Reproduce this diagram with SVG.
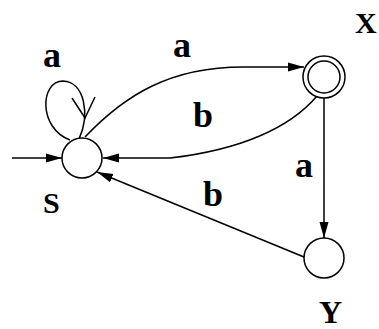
<svg xmlns="http://www.w3.org/2000/svg" width="379" height="329" viewBox="0 0 379 329">
<style>
.st{fill:#fff;stroke:#000;stroke-width:1.5}
.e{fill:none;stroke:#000;stroke-width:1.5}
.t{font-family:"Liberation Serif","DejaVu Serif",serif;font-weight:bold;fill:#000}
</style>
<defs>
<marker id="ah" markerUnits="userSpaceOnUse" markerWidth="18" markerHeight="10" refX="16" refY="5" orient="auto">
<path d="M0,0.5 L16,5 L0,9.5 z" fill="#000"/>
</marker>
</defs>
<rect width="379" height="329" fill="#fff"/>
<g id="edges">
<path class="e" d="M12,158 L62,158" marker-end="url(#ah)"/>
<path class="e" d="M70,140 C38,128 40,81 63,81 C85,82 90,115 79,139"/>
<path class="e" d="M72,98 L85,118 L95,97"/>
<path class="e" d="M85,137 C125,95 170,67 243,67 L304,67" marker-end="url(#ah)"/>
<path class="e" d="M317,96 C290,128 240,150 170,158 L103,158" marker-end="url(#ah)"/>
<path class="e" d="M324,98 L324,238" marker-end="url(#ah)"/>
<path class="e" d="M304,257 L97,172" marker-end="url(#ah)"/>
</g>
<g id="S">
<circle class="st" cx="82" cy="158" r="20"/>
<text class="t" x="43" y="213" font-size="30">S</text>
</g>
<g id="X">
<circle class="st" cx="324" cy="77" r="21"/>
<circle class="st" cx="324" cy="77" r="16"/>
<text class="t" x="355" y="33" font-size="30">X</text>
</g>
<g id="Y">
<circle class="st" cx="324" cy="258" r="20"/>
<text class="t" x="319" y="323" font-size="32">Y</text>
</g>
<g id="labels">
<text class="t" x="43" y="67" font-size="36">a</text>
<text class="t" x="173" y="57" font-size="36">a</text>
<text class="t" x="193" y="127" font-size="36">b</text>
<text class="t" x="295" y="177" font-size="36">a</text>
<text class="t" x="203" y="206" font-size="36">b</text>
</g>
</svg>
